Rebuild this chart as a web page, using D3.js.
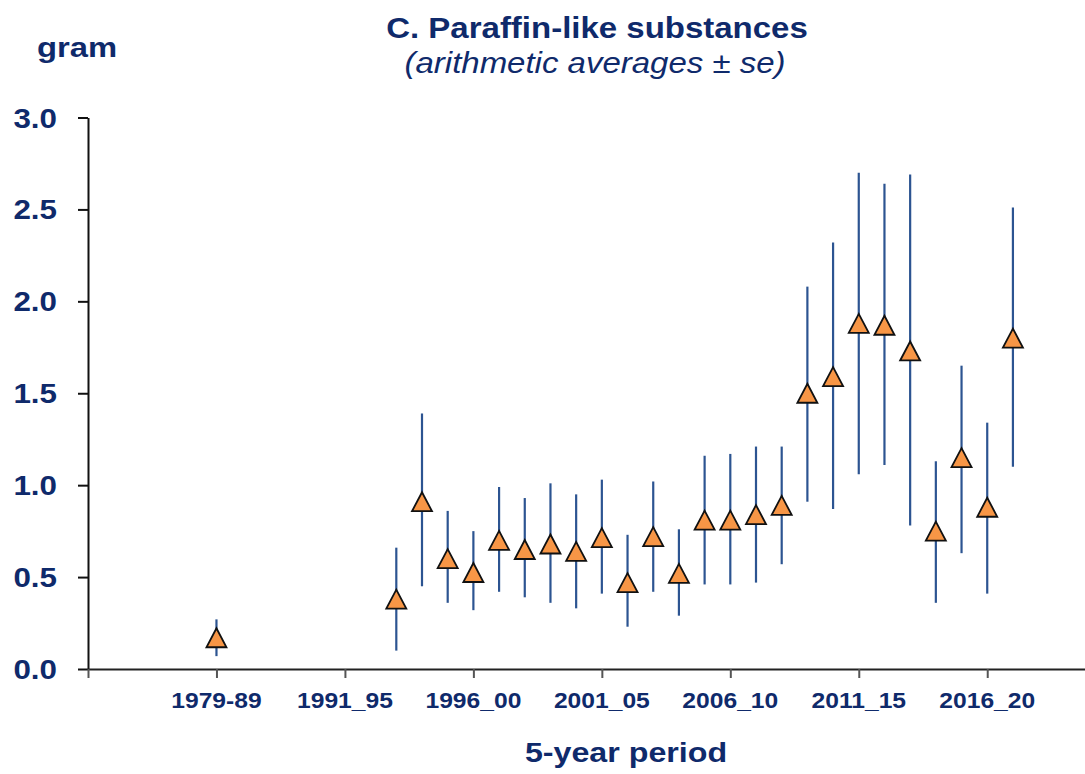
<!DOCTYPE html>
<html>
<head>
<meta charset="utf-8">
<script src="https://cdn.jsdelivr.net/npm/d3@7"></script>
<style>
	body { margin: 0; background: #fff; }
	svg text { font-family: "Liberation Sans", Arial, sans-serif; fill: #0f2a6b; }
</style>
</head>
<body>
<svg id="chart" width="1085" height="774"></svg>
<script>
/* Paraffin-like substances, yearly means with standard error */

var years = [1988, 1995, 1996, 1997, 1998, 1999, 2000, 2001, 2002, 2003, 2004, 2005, 2006,
	2007, 2008, 2009, 2010, 2011, 2012, 2013, 2014, 2015, 2016, 2017, 2018, 2019];
var means = [0.17, 0.38, 0.91, 0.60, 0.525, 0.70, 0.65, 0.68, 0.64, 0.715, 0.47, 0.72, 0.52,
	0.81, 0.81, 0.84, 0.89, 1.50, 1.59, 1.88, 1.87, 1.73, 0.75, 1.15, 0.88, 1.80];
var lower = [0.07, 0.10, 0.45, 0.36, 0.32, 0.42, 0.39, 0.36, 0.33, 0.41, 0.23, 0.42, 0.29,
	0.46, 0.46, 0.47, 0.57, 0.91, 0.87, 1.06, 1.11, 0.78, 0.36, 0.63, 0.41, 1.10];
var upper = [0.27, 0.66, 1.39, 0.86, 0.75, 0.99, 0.93, 1.01, 0.95, 1.03, 0.73, 1.02, 0.76,
	1.16, 1.17, 1.21, 1.21, 2.08, 2.32, 2.70, 2.64, 2.69, 1.13, 1.65, 1.34, 2.51];

var periodTicks = [1988, 1993, 1998, 2003, 2008, 2013, 2018];
var periodLabels = ["1979-89", "1991_95", "1996_00", "2001_05", "2006_10", "2011_15", "2016_20"];
var xTickYears = [1983, 1988, 1993, 1998, 2003, 2008, 2013, 2018];
var yTicks = [0, 0.5, 1, 1.5, 2, 2.5, 3];

var navy = "#0f2a6b", barColor = "#2c5491", markerFill = "#f79646";
var stretch = 1.12;   // text in the original is a little wide

var svg = d3.select("#chart");

var x = d3.scaleLinear().domain([1983, 2022]).range([88, 1090]);
var y = d3.scaleLinear().domain([0, 3]).range([669, 117.5]);

var data = years.map(function(yr, i) {
	return { year: yr, mean: means[i], lo: lower[i], hi: upper[i] };
});

// helper for the slightly widened text
function label(g, px, py, str, opts) {
	var t = g.append("text")
		.attr("transform", "translate(" + px + "," + py + ") scale(" + (opts.sx || stretch) + ",1)")
		.attr("text-anchor", opts.anchor || "middle")
		.style("font-size", opts.size + "px")
		.style("font-weight", opts.weight || "bold")
		.text(str);
	if (opts.italic) t.style("font-style", "italic");
	if (opts.baseline) t.attr("dominant-baseline", opts.baseline);
	return t;
}

// y axis (ticks only, labels drawn separately)
var yAxis = svg.append("g")
	.attr("transform", "translate(88,0)")
	.call(d3.axisLeft(y).tickValues(yTicks).tickSize(10).tickSizeOuter(0).tickFormat(""));
yAxis.select(".domain").attr("stroke", "#111").attr("stroke-width", 2);
yAxis.selectAll(".tick line").attr("stroke", "#111").attr("stroke-width", 2);

yTicks.forEach(function(v) {
	label(svg, 57, y(v) + 10, d3.format(".1f")(v), { size: 28, anchor: "end" });
});

// x axis
var xAxis = svg.append("g")
	.attr("transform", "translate(0,669)")
	.call(d3.axisBottom(x).tickValues(xTickYears).tickSize(9).tickSizeOuter(0).tickFormat(""));
xAxis.select(".domain").attr("stroke", "#222").attr("stroke-width", 2);
xAxis.selectAll(".tick line").attr("stroke", "#555").attr("stroke-width", 2);

periodTicks.forEach(function(yr, i) {
	label(svg, x(yr), 708, periodLabels[i], { size: 22 });
});

// error bars
svg.selectAll(".err")
	.data(data)
  .enter()
	.append("line")
	.attr("class", "err")
	.attr("x1", function(d) { return x(d.year); })
	.attr("x2", function(d) { return x(d.year); })
	.attr("y1", function(d) { return y(d.lo); })
	.attr("y2", function(d) { return y(d.hi); })
	.attr("stroke", barColor)
	.attr("stroke-width", 2.2);

// triangle markers, centred on the mean
var tw = 20, th = 19;
var tri = "M0," + (-th / 2) + "L" + (tw / 2) + "," + (th / 2) + "L" + (-tw / 2) + "," + (th / 2) + "Z";
svg.selectAll(".mark")
	.data(data)
  .enter()
	.append("path")
	.attr("class", "mark")
	.attr("d", tri)
	.attr("transform", function(d) { return "translate(" + x(d.year) + "," + y(d.mean) + ")"; })
	.attr("fill", markerFill)
	.attr("stroke", "#111")
	.attr("stroke-width", 1.8)
	.attr("stroke-linejoin", "miter");

// titles
label(svg, 597, 38, "C. Paraffin-like substances", { size: 30, sx: 1.1 });
label(svg, 595, 73, "(arithmetic averages \u00b1 se)", { size: 30, weight: "normal", italic: true, sx: 1.1 });
label(svg, 37, 57, "gram", { size: 28, anchor: "start", sx: 1.17 });
label(svg, 626, 762, "5-year period", { size: 28, sx: 1.15 });
</script>
</body>
</html>
